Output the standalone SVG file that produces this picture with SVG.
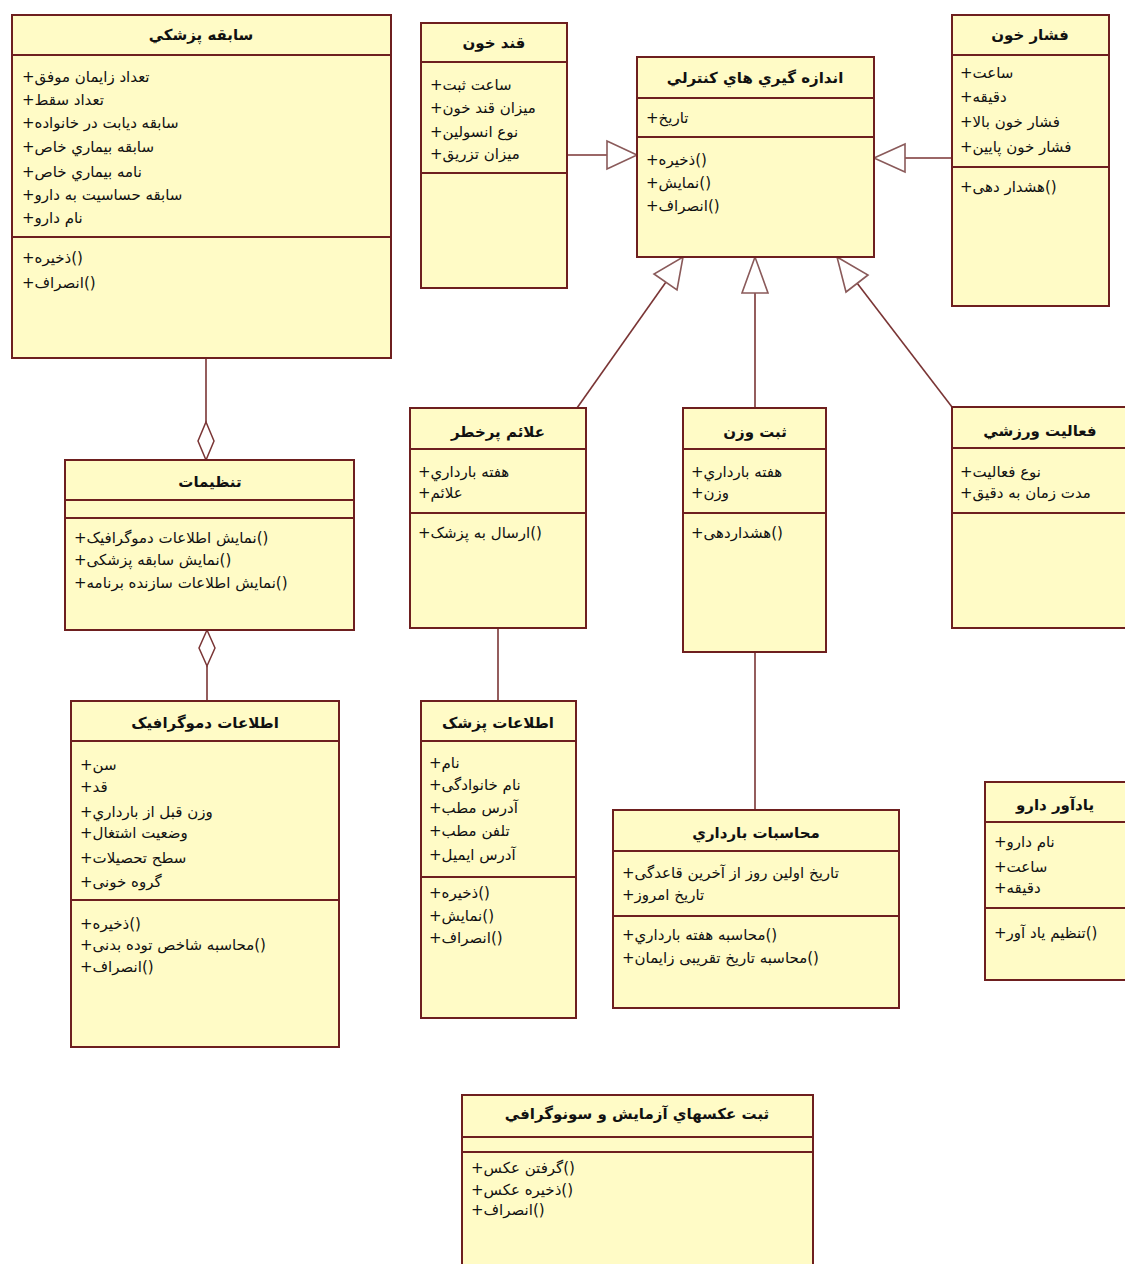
<svg xmlns="http://www.w3.org/2000/svg" width="1125" height="1264" viewBox="0 0 1125 1264">
<style>
.box{fill:#FFFBC6;stroke:#6E1F1F;stroke-width:2}
.div{stroke:#6E1F1F;stroke-width:2}
.t{font-family:"DejaVu Sans",sans-serif;font-size:15px;font-weight:bold;fill:#111;text-anchor:middle;direction:rtl}
.m{font-family:"DejaVu Sans",sans-serif;font-size:15px;fill:#111;text-anchor:end;direction:rtl}
.ln{stroke:#7A3535;stroke-width:1.6;fill:none}
.tri{fill:#fff;stroke:#8A5A5A;stroke-width:1.6}
.dia{fill:#fff;stroke:#7A3535;stroke-width:1.5}
</style>
<rect width="1125" height="1264" fill="#fff"/>
<g id="connectors">
<line class="ln" x1="567" y1="155" x2="607" y2="155"/>
<polygon class="tri" points="637,155 607,141 607,169"/>
<line class="ln" x1="952" y1="158" x2="905" y2="158"/>
<polygon class="tri" points="874,158 905,144 905,172"/>
<line class="ln" x1="577" y1="408" x2="666" y2="282"/>
<polygon class="tri" points="683,257 677,290 654,274"/>
<line class="ln" x1="755" y1="408" x2="755" y2="293"/>
<polygon class="tri" points="755,257 742,293 768,293"/>
<line class="ln" x1="952" y1="407" x2="857" y2="283"/>
<polygon class="tri" points="837,257 868,275 846,292"/>
<line class="ln" x1="206" y1="358" x2="206" y2="422"/>
<polygon class="dia" points="206,422 214,441 206,460 198,441"/>
<line class="ln" x1="207" y1="666" x2="207" y2="701"/>
<polygon class="dia" points="207,630 215,648 207,666 199,648"/>
<line class="ln" x1="498" y1="628" x2="498" y2="701"/>
<line class="ln" x1="755" y1="652" x2="755" y2="810"/>
</g>
<g id="n1">
<rect class="box" x="12" y="15" width="379" height="343"/>
<line class="div" x1="12" y1="55" x2="391" y2="55"/>
<line class="div" x1="12" y1="237" x2="391" y2="237"/>
<text class="t" x="201" y="40">سابقه پزشكي</text>
<text class="m" x="22" y="82">تعداد زايمان موفق+</text>
<text class="m" x="22" y="105">تعداد سقط+</text>
<text class="m" x="22" y="128">سابقه ديابت در خانواده+</text>
<text class="m" x="22" y="152">سابقه بيماري خاص+</text>
<text class="m" x="22" y="177">نامه بيماري خاص+</text>
<text class="m" x="22" y="200">سابقه حساسيت به دارو+</text>
<text class="m" x="22" y="223">نام دارو+</text>
<text class="m" x="22" y="263">()ذخيره+</text>
<text class="m" x="22" y="288">()انصراف+</text>
</g>
<g id="n2">
<rect class="box" x="421" y="23" width="146" height="265"/>
<line class="div" x1="421" y1="62" x2="567" y2="62"/>
<line class="div" x1="421" y1="173" x2="567" y2="173"/>
<text class="t" x="494" y="48">قند خون</text>
<text class="m" x="430" y="90">ساعت ثبت+</text>
<text class="m" x="430" y="113">ميزان قند خون+</text>
<text class="m" x="430" y="137">نوع انسولين+</text>
<text class="m" x="430" y="159">ميزان تزريق+</text>
</g>
<g id="n3">
<rect class="box" x="637" y="57" width="237" height="200"/>
<line class="div" x1="637" y1="98" x2="874" y2="98"/>
<line class="div" x1="637" y1="137" x2="874" y2="137"/>
<text class="t" x="755" y="83">اندازه گيري هاي كنترلي</text>
<text class="m" x="646" y="123">تاريخ+</text>
<text class="m" x="646" y="165">()ذخيره+</text>
<text class="m" x="646" y="188">()نمايش+</text>
<text class="m" x="646" y="211">()انصراف+</text>
</g>
<g id="n4">
<rect class="box" x="952" y="15" width="157" height="291"/>
<line class="div" x1="952" y1="55" x2="1109" y2="55"/>
<line class="div" x1="952" y1="167" x2="1109" y2="167"/>
<text class="t" x="1030" y="40">فشار خون</text>
<text class="m" x="960" y="78">ساعت+</text>
<text class="m" x="960" y="102">دقيقه+</text>
<text class="m" x="960" y="127">فشار خون بالا+</text>
<text class="m" x="960" y="152">فشار خون پايين+</text>
<text class="m" x="960" y="192">()هشدار دهی+</text>
</g>
<g id="n5">
<rect class="box" x="65" y="460" width="289" height="170"/>
<line class="div" x1="65" y1="500" x2="354" y2="500"/>
<line class="div" x1="65" y1="518" x2="354" y2="518"/>
<text class="t" x="210" y="487">تنظيمات</text>
<text class="m" x="74" y="543">()نمايش اطلاعات دموگرافيک+</text>
<text class="m" x="74" y="565">()نمايش سابقه پزشکی+</text>
<text class="m" x="74" y="588">()نمايش اطلاعات سازنده برنامه+</text>
</g>
<g id="n6">
<rect class="box" x="71" y="701" width="268" height="346"/>
<line class="div" x1="71" y1="741" x2="339" y2="741"/>
<line class="div" x1="71" y1="900" x2="339" y2="900"/>
<text class="t" x="205" y="728">اطلاعات دموگرافيک</text>
<text class="m" x="80" y="770">سن+</text>
<text class="m" x="80" y="792">قد+</text>
<text class="m" x="80" y="817">وزن قبل از بارداري+</text>
<text class="m" x="80" y="838">وضعيت اشتغال+</text>
<text class="m" x="80" y="863">سطح تحصيلات+</text>
<text class="m" x="80" y="887">گروه خونی+</text>
<text class="m" x="80" y="929">()ذخيره+</text>
<text class="m" x="80" y="950">()محاسبه شاخص توده بدنی+</text>
<text class="m" x="80" y="972">()انصراف+</text>
</g>
<g id="n7">
<rect class="box" x="410" y="408" width="176" height="220"/>
<line class="div" x1="410" y1="449" x2="586" y2="449"/>
<line class="div" x1="410" y1="513" x2="586" y2="513"/>
<text class="t" x="498" y="437">علائم پرخطر</text>
<text class="m" x="418" y="477">هفته بارداري+</text>
<text class="m" x="418" y="498">علائم+</text>
<text class="m" x="418" y="538">()ارسال به پزشک+</text>
</g>
<g id="n8">
<rect class="box" x="683" y="408" width="143" height="244"/>
<line class="div" x1="683" y1="449" x2="826" y2="449"/>
<line class="div" x1="683" y1="513" x2="826" y2="513"/>
<text class="t" x="755" y="437">ثبت وزن</text>
<text class="m" x="691" y="477">هفته بارداري+</text>
<text class="m" x="691" y="498">وزن+</text>
<text class="m" x="691" y="538">()هشداردهی+</text>
</g>
<g id="n9">
<rect class="box" x="952" y="407" width="176" height="221"/>
<line class="div" x1="952" y1="448" x2="1128" y2="448"/>
<line class="div" x1="952" y1="513" x2="1128" y2="513"/>
<text class="t" x="1040" y="436">فعاليت ورزشي</text>
<text class="m" x="960" y="477">نوع فعاليت+</text>
<text class="m" x="960" y="498">مدت زمان به دقيق+</text>
</g>
<g id="n10">
<rect class="box" x="421" y="701" width="155" height="317"/>
<line class="div" x1="421" y1="741" x2="576" y2="741"/>
<line class="div" x1="421" y1="877" x2="576" y2="877"/>
<text class="t" x="498" y="728">اطلاعات پزشک</text>
<text class="m" x="429" y="768">نام+</text>
<text class="m" x="429" y="790">نام خانوادگی+</text>
<text class="m" x="429" y="813">آدرس مطب+</text>
<text class="m" x="429" y="836">تلفن مطب+</text>
<text class="m" x="429" y="860">آدرس ايميل+</text>
<text class="m" x="429" y="898">()ذخيره+</text>
<text class="m" x="429" y="921">()نمايش+</text>
<text class="m" x="429" y="943">()انصراف+</text>
</g>
<g id="n11">
<rect class="box" x="613" y="810" width="286" height="198"/>
<line class="div" x1="613" y1="851" x2="899" y2="851"/>
<line class="div" x1="613" y1="916" x2="899" y2="916"/>
<text class="t" x="756" y="838">محاسبات بارداري</text>
<text class="m" x="622" y="878">تاريخ اولين روز از آخرين قاعدگی+</text>
<text class="m" x="622" y="900">تاريخ امروز+</text>
<text class="m" x="622" y="940">()محاسبه هفته بارداري+</text>
<text class="m" x="622" y="963">()محاسبه تاريخ تقريبی زايمان+</text>
</g>
<g id="n12">
<rect class="box" x="985" y="782" width="142" height="198"/>
<line class="div" x1="985" y1="822" x2="1127" y2="822"/>
<line class="div" x1="985" y1="908" x2="1127" y2="908"/>
<text class="t" x="1055" y="810">يادآور دارو</text>
<text class="m" x="994" y="847">نام دارو+</text>
<text class="m" x="994" y="872">ساعت+</text>
<text class="m" x="994" y="893">دقيقه+</text>
<text class="m" x="994" y="938">()تنظيم ياد آور+</text>
</g>
<g id="n13">
<rect class="box" x="462" y="1095" width="351" height="175"/>
<line class="div" x1="462" y1="1137" x2="813" y2="1137"/>
<line class="div" x1="462" y1="1152" x2="813" y2="1152"/>
<text class="t" x="637" y="1119">ثبت عكسهاي آزمايش و سونوگرافي</text>
<text class="m" x="471" y="1173">()گرفتن عکس+</text>
<text class="m" x="471" y="1195">()ذخيره عکس+</text>
<text class="m" x="471" y="1215">()انصراف+</text>
</g>
</svg>
